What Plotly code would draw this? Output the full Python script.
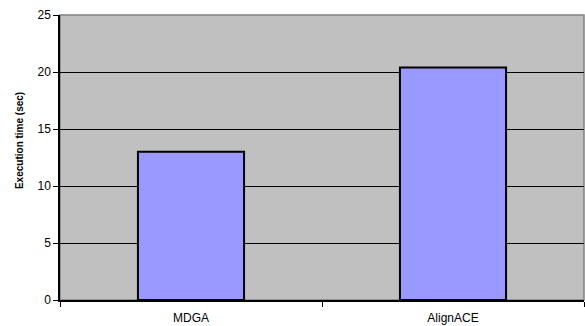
import plotly.graph_objects as go

# Execution time per tool
methods = ["MDGA", "AlignACE"]
exec_times = [13.0, 20.4]

y_ticks = [0, 5, 10, 15, 20, 25]

positions = list(range(len(methods)))

fig = go.Figure()

fig.add_trace(go.Bar(
    x=positions,
    y=exec_times,
    width=0.405,
    marker=dict(color="#9999FF", line=dict(color="#000000", width=2)),
    hovertext=methods,
    hoverinfo="text+y",
))

family = "Liberation Sans, Arial, sans-serif"
tick_font = dict(family=family, size=12, color="#000000")
title_font = dict(family=family, size=10, color="#000000")

fig.update_layout(
    width=585,
    height=326,
    margin=dict(l=60, r=1, t=15, b=26),
    paper_bgcolor="#FFFFFF",
    plot_bgcolor="#C0C0C0",
    showlegend=False,
    font=tick_font,
    shapes=[
        # grey frame along the top and right of the plot area
        dict(type="rect", xref="paper", yref="paper", x0=0, x1=1, y0=0, y1=1,
             line=dict(color="#808080", width=1.5), layer="below"),
    ],
    annotations=[
        # y-axis title, set a little above the plot's vertical centre
        dict(text="<b>Execution time (sec)</b>", font=title_font,
             textangle=-90, showarrow=False,
             xref="paper", yref="paper", x=-0.077, y=0.56,
             xanchor="center", yanchor="middle"),
    ],
)

fig.update_xaxes(
    range=[-0.5, len(methods) - 0.5],
    tickvals=positions,
    ticktext=methods,
    showline=True, linecolor="#000000", linewidth=1.5,
    showgrid=False,
    zeroline=False,
    ticks="",
    tickfont=tick_font,
    ticklabelstandoff=6,
    # tick marks on the category boundaries
    minor=dict(tick0=-0.5, dtick=1, ticks="outside", ticklen=5,
               tickcolor="#000000", tickwidth=1, showgrid=False),
)

fig.update_yaxes(
    range=[0, 25],
    tickvals=y_ticks,
    showline=True, linecolor="#000000", linewidth=1.5,
    showgrid=True, gridcolor="#000000", gridwidth=1,
    ticks="outside", ticklen=5, tickcolor="#000000", tickwidth=1,
    tickfont=tick_font,
    zeroline=False,
)

fig.write_html("out.html")
